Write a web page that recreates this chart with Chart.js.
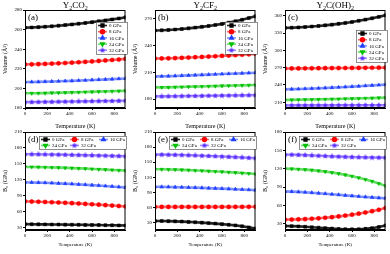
<!DOCTYPE html>
<html>
<head>
<meta charset="utf-8">
<script src="https://cdn.jsdelivr.net/npm/chart.js@4.4.0/dist/chart.umd.min.js"></script>
<style>
  body { margin: 0; background: #fff; width: 390px; height: 254px; overflow: hidden; position: relative; }
  canvas { position: absolute; }
</style>
</head>
<body>
<canvas id="pa" width="130" height="130" style="left:0;top:0"></canvas>
<canvas id="pb" width="130" height="130" style="left:130px;top:0"></canvas>
<canvas id="pc" width="130" height="130" style="left:260px;top:0"></canvas>
<canvas id="pd" width="130" height="127" style="left:0;top:127px"></canvas>
<canvas id="pe" width="130" height="127" style="left:130px;top:127px"></canvas>
<canvas id="pf" width="130" height="127" style="left:260px;top:127px"></canvas>
<script>
const temps = [0, 60, 120, 180, 240, 300, 360, 420, 480, 540, 600, 660, 720, 780, 840, 900];
const pressures = ['0 GPa', '8 GPa', '16 GPa', '24 GPa', '32 GPa'];
const xTicks = [0, 200, 400, 600, 800];
// compound names, split as [text, isSubscript]
const titleCO2 = [['Y', 0], ['2', 1], ['CO', 0], ['2', 1]];
const titleCF2 = [['Y', 0], ['2', 1], ['CF', 0], ['2', 1]];
const titleOH2 = [['Y', 0], ['2', 1], ['C(OH)', 0], ['2', 1]];

// (a) Y2CO2 volume
const volCO2_0 = [262.0, 262.2, 262.5, 262.9, 263.4, 264.0, 264.6, 265.3, 266.0, 266.8, 267.6, 268.5, 269.4, 270.4, 271.4, 272.5];
const volCO2_8 = [224.5, 224.6, 224.8, 225.0, 225.3, 225.6, 225.9, 226.3, 226.7, 227.1, 227.5, 228.0, 228.5, 229.0, 229.5, 230.1];
const volCO2_16 = [206.5, 206.6, 206.7, 206.9, 207.1, 207.3, 207.5, 207.7, 208.0, 208.3, 208.6, 208.9, 209.2, 209.5, 209.8, 210.1];
const volCO2_24 = [195.0, 195.0, 195.1, 195.2, 195.4, 195.5, 195.7, 195.9, 196.1, 196.3, 196.5, 196.7, 196.9, 197.1, 197.3, 197.5];
const volCO2_32 = [186.0, 186.0, 186.1, 186.2, 186.3, 186.4, 186.5, 186.6, 186.7, 186.8, 186.9, 187.0, 187.1, 187.2, 187.3, 187.4];
const volCO2Ticks = [180, 200, 220, 240, 260, 280];

// (b) Y2CF2 volume
const volCF2_0 = [257.0, 257.2, 257.6, 258.1, 258.7, 259.4, 260.2, 261.1, 262.1, 263.2, 264.4, 265.8, 267.3, 269.0, 270.9, 273.0];
const volCF2_8 = [225.5, 225.6, 225.8, 226.0, 226.3, 226.6, 227.0, 227.3, 227.7, 228.1, 228.5, 228.9, 229.4, 229.8, 230.3, 230.8];
const volCF2_16 = [205.5, 205.6, 205.8, 206.0, 206.3, 206.6, 206.9, 207.2, 207.5, 207.8, 208.1, 208.4, 208.7, 209.0, 209.3, 209.6];
const volCF2_24 = [193.0, 193.1, 193.2, 193.4, 193.6, 193.8, 194.0, 194.2, 194.4, 194.6, 194.8, 195.0, 195.2, 195.4, 195.6, 195.8];
const volCF2_32 = [183.0, 183.0, 183.1, 183.2, 183.3, 183.4, 183.5, 183.6, 183.7, 183.8, 183.9, 184.0, 184.1, 184.2, 184.3, 184.4];
const volCF2Ticks = [180, 210, 240, 270];

// (c) Y2C(OH)2 volume
const volOH2_0 = [339.0, 339.3, 339.8, 340.5, 341.3, 342.3, 343.4, 344.6, 346.0, 347.6, 349.3, 351.2, 353.3, 355.6, 358.1, 360.8];
const volOH2_8 = [268.5, 268.6, 268.7, 268.8, 268.9, 269.0, 269.1, 269.2, 269.3, 269.4, 269.5, 269.6, 269.7, 269.8, 269.9, 270.0];
const volOH2_16 = [232.5, 232.7, 233.0, 233.4, 233.8, 234.3, 234.8, 235.3, 235.9, 236.5, 237.1, 237.8, 238.5, 239.2, 239.9, 240.6];
const volOH2_24 = [214.0, 214.1, 214.3, 214.5, 214.7, 214.9, 215.2, 215.4, 215.7, 216.0, 216.3, 216.6, 216.9, 217.2, 217.5, 217.8];
const volOH2_32 = [204.5, 204.5, 204.5, 204.5, 204.6, 204.6, 204.6, 204.6, 204.7, 204.7, 204.7, 204.7, 204.8, 204.8, 204.8, 204.8];
const volOH2Ticks = [210, 240, 270, 300, 330, 360];

// (d) Y2CO2 bulk modulus
const bCO2_0 = [36.0, 35.9, 35.7, 35.6, 35.4, 35.3, 35.1, 35.0, 34.8, 34.6, 34.5, 34.3, 34.1, 33.9, 33.7, 33.5];
const bCO2_8 = [79.0, 78.7, 78.3, 77.9, 77.4, 76.9, 76.3, 75.7, 75.0, 74.3, 73.6, 72.8, 72.0, 71.2, 70.3, 69.4];
const bCO2_16 = [115.0, 114.8, 114.5, 114.1, 113.6, 113.1, 112.5, 111.9, 111.2, 110.5, 109.7, 108.9, 108.1, 107.2, 106.3, 105.4];
const bCO2_24 = [144.0, 143.9, 143.7, 143.4, 143.1, 142.7, 142.3, 141.8, 141.3, 140.8, 140.2, 139.6, 139.0, 138.4, 137.7, 137.0];
const bCO2_32 = [168.0, 167.9, 167.8, 167.6, 167.4, 167.2, 167.0, 166.7, 166.4, 166.1, 165.8, 165.5, 165.2, 164.9, 164.5, 164.1];
const bCO2Ticks = [30, 60, 90, 120, 150, 180, 210];

// (e) Y2CF2 bulk modulus
const bCF2_0 = [33.0, 32.9, 32.6, 32.2, 31.7, 31.1, 30.4, 29.6, 28.7, 27.7, 26.6, 25.4, 24.2, 22.4, 20.2, 17.8];
const bCF2_8 = [61.0, 61.0, 61.0, 61.0, 61.0, 61.0, 61.0, 61.0, 61.0, 61.0, 61.0, 61.0, 61.1, 61.1, 61.2, 61.2];
const bCF2_16 = [101.0, 100.9, 100.7, 100.4, 100.1, 99.7, 99.3, 98.9, 98.4, 97.9, 97.4, 96.8, 96.2, 95.6, 95.0, 94.3];
const bCF2_24 = [136.0, 135.8, 135.5, 135.1, 134.6, 134.1, 133.5, 132.9, 132.2, 131.5, 130.8, 130.0, 129.2, 128.3, 127.4, 126.5];
const bCF2_32 = [165.0, 164.9, 164.7, 164.4, 164.1, 163.7, 163.3, 162.8, 162.3, 161.8, 161.2, 160.6, 160.0, 159.3, 158.6, 157.9];
const bCF2Ticks = [30, 60, 90, 120, 150, 180, 210];

// (f) Y2C(OH)2 bulk modulus
const bOH2_0 = [26.5, 26.3, 25.9, 25.3, 24.6, 23.8, 23.0, 22.3, 21.7, 21.3, 21.1, 21.3, 21.9, 23.0, 24.8, 27.5];
const bOH2_8 = [37.0, 37.1, 37.4, 37.8, 38.4, 39.1, 40.0, 41.0, 42.2, 43.5, 45.0, 46.7, 48.6, 50.7, 53.0, 55.8];
const bOH2_16 = [83.0, 82.7, 82.2, 81.6, 80.9, 80.1, 79.3, 78.4, 77.5, 76.6, 75.7, 74.8, 74.0, 73.2, 72.5, 71.9];
const bOH2_24 = [120.0, 119.8, 119.3, 118.6, 117.7, 116.6, 115.3, 113.8, 112.0, 110.0, 107.8, 105.3, 102.5, 99.4, 95.9, 92.0];
const bOH2_32 = [143.0, 142.9, 142.6, 142.2, 141.7, 141.2, 140.7, 140.2, 139.8, 139.4, 139.0, 138.7, 138.5, 138.3, 138.2, 138.1];
const bOH2Ticks = [30, 60, 90, 120, 150, 180];

const markColors = ['#000000', '#ff0000', '#1f3fff', '#00c000', '#5a2cff'];
const lineColors = ['rgba(0,0,0,0.85)', 'rgba(255,40,40,0.7)', 'rgba(40,70,255,0.6)', 'rgba(0,200,0,0.6)', 'rgba(100,60,255,0.6)'];
const serif = '"Liberation Serif", "DejaVu Serif", serif';

function starMark(color) {
  const c = document.createElement('canvas');
  c.width = 6; c.height = 6;
  const g = c.getContext('2d');
  g.fillStyle = color;
  g.beginPath();
  for (let i = 0; i < 10; i++) {
    const r = i % 2 ? 1.4 : 3;
    const a = -Math.PI / 2 + i * Math.PI / 5;
    g.lineTo(3 + r * Math.cos(a), 3 + r * Math.sin(a));
  }
  g.closePath();
  g.fill();
  return c;
}
const markStyles = ['rect', 'circle', 'triangle', 'triangle', starMark(markColors[4])];
const markRot = [0, 0, 0, 180, 0];

// frame, compound title, panel letter and a legend drawn from the datasets
const decor = {
  id: 'decor',
  afterDatasetsDraw(chart, args, o) {
    const { ctx, chartArea: ca } = chart;
    ctx.save();
    ctx.strokeStyle = '#000';
    ctx.lineWidth = 1;
    ctx.strokeRect(ca.left + 0.5, ca.top + 0.5, ca.width - 1, ca.height - 1);
    ctx.fillStyle = '#000';
    ctx.textBaseline = 'alphabetic';

    if (o.title) {
      const big = '9px ' + serif, small = '6px ' + serif;
      let w = 0;
      o.title.forEach(([t, sub]) => { ctx.font = sub ? small : big; w += ctx.measureText(t).width; });
      let x = (ca.left + ca.right) / 2 - w / 2;
      o.title.forEach(([t, sub]) => {
        ctx.font = sub ? small : big;
        ctx.fillText(t, x, sub ? 9.5 : 7.5);
        x += ctx.measureText(t).width;
      });
    }

    ctx.textBaseline = 'top';
    ctx.font = '9px ' + serif;
    ctx.fillText(o.tag, ca.left + 3, ca.top + 3);

    const [bx, by, bw, bh] = o.box;
    const x0 = ca.left + bx, y0 = ca.top + by;
    ctx.fillStyle = '#fff';
    ctx.fillRect(x0, y0, bw, bh);
    ctx.lineWidth = 0.6;
    ctx.strokeStyle = '#444';
    ctx.strokeRect(x0 + 0.5, y0 + 0.5, bw, bh);
    ctx.font = '5px ' + serif;
    ctx.textBaseline = 'middle';
    chart.data.datasets.forEach((ds, i) => {
      const col = i % o.cols, row = Math.floor(i / o.cols);
      const ix = x0 + 2 + col * o.colW;
      const iy = y0 + 3.5 + row * o.rowH;
      ctx.strokeStyle = ds.borderColor;
      ctx.lineWidth = 1.6;
      ctx.beginPath();
      ctx.moveTo(ix, iy);
      ctx.lineTo(ix + 9, iy);
      ctx.stroke();
      ctx.fillStyle = ds.pointBackgroundColor;
      ctx.strokeStyle = ds.pointBackgroundColor;
      Chart.helpers.drawPoint(ctx, { pointStyle: ds.pointStyle, rotation: ds.pointRotation, radius: 1.9, borderWidth: 0.5 }, ix + 4.5, iy);
      ctx.fillStyle = '#000';
      ctx.fillText(ds.label, ix + 11, iy + 0.3);
    });
    ctx.restore();
  }
};

function makePanel(id, series, yMin, yMax, yTicks, yTitle, opt) {
  const datasets = series.map((vals, i) => ({
    label: pressures[i],
    data: vals.map((v, k) => ({ x: temps[k], y: v })),
    borderColor: lineColors[i],
    borderWidth: 2.6,
    pointStyle: markStyles[i],
    pointRotation: markRot[i],
    pointRadius: 2.1,
    pointBorderWidth: 0.5,
    pointBackgroundColor: markColors[i],
    pointBorderColor: markColors[i],
    tension: 0
  }));
  const tickFont = { family: serif, size: 5 };
  new Chart(document.getElementById(id), {
    type: 'line',
    data: { datasets },
    plugins: [decor],
    options: {
      responsive: false,
      animation: false,
      events: [],
      layout: { padding: { left: 0, right: 2, top: opt.top, bottom: 0 } },
      plugins: {
        legend: { display: false },
        tooltip: { enabled: false },
        decor: { tag: opt.tag, title: opt.title, box: opt.box, cols: opt.cols, colW: opt.colW, rowH: opt.rowH }
      },
      scales: {
        x: {
          type: 'linear', min: 0, max: 900,
          afterBuildTicks: s => { s.ticks = xTicks.map(v => ({ value: v })); },
          afterFit: s => { s.height = opt.xH; },
          ticks: { font: tickFont, color: '#000', padding: 1, maxRotation: 0, autoSkip: false },
          grid: { drawOnChartArea: false, tickLength: 2, color: '#000' },
          border: { color: '#000' },
          title: { display: true, text: 'Temperature (K)', color: '#000', font: { family: serif, size: opt.xTitleSize }, padding: { top: 0, bottom: opt.xTitlePad } }
        },
        y: {
          min: yMin, max: yMax,
          afterBuildTicks: s => { s.ticks = yTicks.map(v => ({ value: v })); },
          afterFit: s => { s.width = 25; },
          ticks: { font: tickFont, color: '#000', padding: 1, autoSkip: false },
          grid: { drawOnChartArea: false, tickLength: 2, color: '#000' },
          border: { color: '#000' },
          title: { display: true, text: yTitle, color: '#000', font: { family: serif, size: 6 }, padding: { top: 2, bottom: 0 } }
        }
      }
    }
  });
}

const topOpt = { top: 10, xH: 22, xTitleSize: 6, xTitlePad: 0, cols: 1, colW: 0, rowH: 6.2 };
const botOpt = { top: 5, xH: 24, xTitleSize: 5, xTitlePad: 6, cols: 3, colW: 29, rowH: 6 };
const volTitle = 'Volume (Å³)';
const bTitle = 'B₀ (GPa)';

makePanel('pa', [volCO2_0, volCO2_8, volCO2_16, volCO2_24, volCO2_32], 180, 280, volCO2Ticks, volTitle,
  Object.assign({}, topOpt, { tag: '(a)', title: titleCO2, box: [71, 12, 31, 32] }));
makePanel('pb', [volCF2_0, volCF2_8, volCF2_16, volCF2_24, volCF2_32], 170, 280, volCF2Ticks, volTitle,
  Object.assign({}, topOpt, { tag: '(b)', title: titleCF2, box: [70, 12, 32, 32] }));
makePanel('pc', [volOH2_0, volOH2_8, volOH2_16, volOH2_24, volOH2_32], 200, 370, volOH2Ticks, volTitle,
  Object.assign({}, topOpt, { tag: '(c)', title: titleOH2, box: [71, 20, 31, 32] }));
makePanel('pd', [bCO2_0, bCO2_8, bCO2_16, bCO2_24, bCO2_32], 25, 210, bCO2Ticks, bTitle,
  Object.assign({}, botOpt, { tag: '(d)', box: [14, 4, 87, 13] }));
makePanel('pe', [bCF2_0, bCF2_8, bCF2_16, bCF2_24, bCF2_32], 15, 210, bCF2Ticks, bTitle,
  Object.assign({}, botOpt, { tag: '(e)', box: [14, 4, 87, 13] }));
makePanel('pf', [bOH2_0, bOH2_8, bOH2_16, bOH2_24, bOH2_32], 20, 180, bOH2Ticks, bTitle,
  Object.assign({}, botOpt, { tag: '(f)', box: [14, 4, 87, 13] }));
</script>
</body>
</html>
